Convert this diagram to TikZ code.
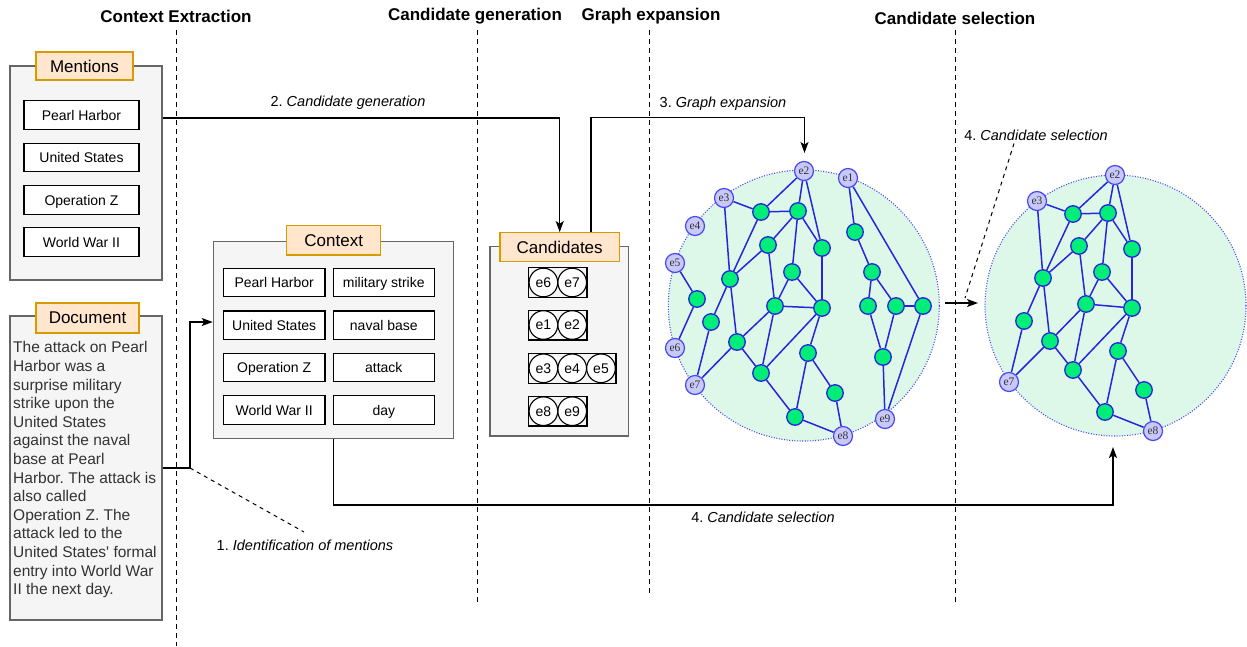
\documentclass[tikz,border=0pt]{standalone}
\usepackage{fontspec}
\setmainfont{Liberation Sans}
\newfontfamily\nodeserif{Liberation Serif}
\usetikzlibrary{arrows.meta,fit}
\frenchspacing

\definecolor{panelfill}{HTML}{F5F5F5}
\definecolor{panelline}{HTML}{666666}
\definecolor{titlefill}{HTML}{FFE6CC}
\definecolor{titleline}{HTML}{D79B00}
\definecolor{graphfill}{HTML}{DDF8E8}
\definecolor{graphline}{HTML}{4848F0}
\definecolor{edgeblue}{HTML}{2626DC}
\definecolor{entfill}{HTML}{C8C8FA}
\definecolor{greenfill}{HTML}{00EE77}
\definecolor{doctext}{HTML}{333333}

\pgfdeclarelayer{bg}
\pgfdeclarelayer{links}
\pgfsetlayers{bg,links,main}

\tikzset{
  head/.style={font=\bfseries\fontsize{17}{20}\selectfont, inner sep=0},
  note/.style={font=\fontsize{14.5}{17}\selectfont, inner sep=0},
  panel/.style={draw=panelline, fill=panelfill, line width=1.2pt, inner sep=0},
  ptitle/.style={draw=titleline, fill=titlefill, line width=1.2pt, inner sep=0,
    text depth=0pt, font=\fontsize{17}{20}\selectfont},
  itembox/.style={draw=black, fill=white, line width=1.3pt, inner sep=0,
    text depth=0pt, minimum height=28.5pt, font=\fontsize{14}{17}\selectfont},
  cand/.style={circle, draw=black, fill=white, line width=1.1pt, inner sep=0,
    minimum size=28.6pt, font=\fontsize{14}{17}\selectfont},
  candgroup/.style={draw=black, line width=1.3pt, inner sep=0},
  phase/.style={black, line width=1pt, dash pattern=on 5pt off 4pt},
  link/.style={black, line width=1.3pt},
  arrow/.style={link, -{Stealth[length=11pt,width=8pt,inset=2.5pt]}},
  hint/.style={black, line width=1pt, dash pattern=on 4pt off 4pt},
  graphdisc/.style={circle, fill=graphfill, draw=graphline, line width=1.1pt,
    dash pattern=on 1pt off 1.6pt, inner sep=0},
  ent/.style={circle, fill=entfill, draw=graphline, line width=1.2pt, inner sep=0,
    minimum size=19pt, text=doctext, font=\nodeserif\fontsize{11.5}{11.5}\selectfont},
  hub/.style={circle, fill=greenfill, draw=edgeblue, line width=1.3pt, inner sep=0,
    minimum size=16.5pt},
  edge/.style={edgeblue, line width=1.5pt},
}

\def\commonedges{e2/g1, e2/g2, e2/g4, e3/g1, e3/g5, g1/g2, g1/g5, g2/g3, g2/g6,
  g2/g4, g3/g5, g3/g7, g4/g8, g6/g7, g6/g8, g7/g8, g5/g9, g5/g10, g9/e7, g10/e7,
  g10/g7, g10/g12, g7/g12, g8/g12, g8/g11, g11/g14, g11/g13, g13/e8, g12/g14, g14/e8}

\begin{document}
\begin{tikzpicture}[x=1pt, y=-1pt]
\useasboundingbox (0,0) rectangle (1247,646);

% ---------- phase headings and separators ----------
\node[head] (hctx)  at (176,16) {Context Extraction};
\node[head] (hgen)  at (475,16) {Candidate generation};
\node[head] (hexp)  at (651,16) {Graph expansion};
\node[head] (hsel)  at (955,18) {Candidate selection};

\coordinate (s1t) at (176,30);  \coordinate (s1b) at (176,646);
\coordinate (s2t) at (477,30);  \coordinate (s2b) at (477,605);
\coordinate (s3t) at (649,30);  \coordinate (s3b) at (649,597);
\coordinate (s4t) at (955,30);  \coordinate (s4b) at (955,603);
\draw[phase] (s1t) -- (s1b);
\draw[phase] (s2t) -- (s2b);
\draw[phase] (s3t) -- (s3b);
\draw[phase] (s4t) -- (s4b);

% ---------- mentions ----------
\node[panel, minimum width=152pt, minimum height=214pt] (mentions) at (86,173) {};
\node[ptitle, minimum width=97pt, minimum height=28pt] (mtitle) at (84.5,66) {Mentions};
\foreach \i/\y/\t in {1/115/Pearl Harbor, 2/157.5/United States,
                      3/200/Operation Z, 4/242/World War II}
  \node[itembox, minimum width=115pt] (m\i) at (81.5,\y) {\t};

% ---------- document ----------
\node[panel, minimum width=152pt, minimum height=304pt] (doc) at (86,468) {};
\node[ptitle, minimum width=103pt, minimum height=30pt] (dtitle) at (87.5,318) {Document};
\node[anchor=north west, align=left, inner sep=0, text=doctext,
      font=\fontsize{15.5}{18.6}\selectfont] (doctext) at (13,341.5)
  {The attack on Pearl\\ Harbor was a\\ surprise military\\ strike upon the\\
   United States\\ against the naval\\ base at Pearl\\ Harbor. The attack is\\
   also called\\ Operation Z. The\\ attack led to the\\ United States\textquotesingle\ formal\\
   entry into World War\\ II the next day.};

% ---------- context ----------
\node[panel, minimum width=240pt, minimum height=196.7pt] (ctx) at (333.3,340) {};
\node[ptitle, minimum width=94pt, minimum height=29.3pt] (ctitle) at (333.7,240.3) {Context};
\foreach \i/\y/\l/\r in {1/282.5/Pearl Harbor/military strike,
                         2/325.3/United States/naval base,
                         3/367.5/Operation Z/attack,
                         4/410/World War II/day} {
  \node[itembox, minimum width=101.7pt] (cl\i) at (274.2,\y) {\l};
  \node[itembox, minimum width=101pt]   (cr\i) at (383.8,\y) {\r};
}

% ---------- candidates ----------
\node[panel, minimum width=138.3pt, minimum height=189.3pt] (cands) at (559.2,341.3) {};
\node[ptitle, minimum width=119.3pt, minimum height=29pt] (candtitle) at (559.7,247.2) {Candidates};
\node[cand] (c-e6) at (543.4,282.5) {e6};
\node[cand] (c-e7) at (572.2,282.5) {e7};
\node[cand] (c-e1) at (543.4,325)   {e1};
\node[cand] (c-e2) at (572.2,325)   {e2};
\node[cand] (c-e3) at (543.4,368.3) {e3};
\node[cand] (c-e4) at (572.2,368.3) {e4};
\node[cand] (c-e5) at (601,368.3)   {e5};
\node[cand] (c-e8) at (543.4,411.2) {e8};
\node[cand] (c-e9) at (572.2,411.2) {e9};
\node[candgroup, fit=(c-e6)(c-e7)] (grp1) {};
\node[candgroup, fit=(c-e1)(c-e2)] (grp2) {};
\node[candgroup, fit=(c-e3)(c-e5)] (grp3) {};
\node[candgroup, fit=(c-e8)(c-e9)] (grp4) {};

% ---------- expanded graph ----------
\begin{pgfonlayer}{bg}
  \node[graphdisc, minimum size=271pt] (disc1) at (803.8,305.5) {};
  \node[graphdisc, minimum size=261pt] (disc2) at (1115.5,305.5) {};
\end{pgfonlayer}

\foreach \n/\x/\y in {e2/804/171, e3/724/198, e4/695/226, e5/675/263,
    e6/675/348, e7/695/385, e8/843/436, e1/848/178, e9/885/419}
  \node[ent] (A-\n) at (\x,\y) {\n};
\foreach \n/\x/\y in {g1/761/212, g2/798/211, g3/768/245, g4/822/248,
    g5/730/279, g6/792/272, g7/775/306, g8/822/308, gA/697/299, g9/711/322,
    g10/737/342, g11/808/353, g12/761/373, g13/835/393, g14/795/417,
    h1/855/232, h2/872/272, h3/868/306, h4/896/306, h5/923/306, h6/883/357}
  \node[hub] (A-\n) at (\x,\y) {};

\begin{pgfonlayer}{links}
  \foreach \a/\b in \commonedges \draw[edge] (A-\a) -- (A-\b);
  \foreach \a/\b in {e5/gA, gA/e6, e1/h1, e1/h5, h1/h2, h2/h3, h2/h4,
                     h4/h5, h3/h6, h4/h6, h6/e9, h5/e9}
    \draw[edge] (A-\a) -- (A-\b);
\end{pgfonlayer}

% ---------- selected sub-graph ----------
\foreach \n/\x/\y in {e2/1115/175, e3/1037/201, e7/1009/382, e8/1153/431}
  \node[ent] (B-\n) at (\x,\y) {\n};
\foreach \n/\x/\y in {g1/1073/214, g2/1108/213, g3/1079/246, g4/1132/249,
    g5/1043/278, g6/1102/272, g7/1086/304, g8/1132/308, g9/1024/321,
    g10/1050/341, g11/1118/351, g12/1073/370, g13/1144/390, g14/1105/412}
  \node[hub] (B-\n) at (\x,\y) {};

\begin{pgfonlayer}{links}
  \foreach \a/\b in \commonedges \draw[edge] (B-\a) -- (B-\b);
\end{pgfonlayer}

% ---------- process connectors ----------
% 1. mentions are identified in the document and give the context
\coordinate (docbend) at (190,468);
\coordinate (idend) at (304,532);
\draw[arrow] (doc.east) -- (docbend) |- ([yshift=18pt]ctx.west);
\draw[hint] (docbend) -- (idend);
\node[note] (idlabel) at (305,545) {1. \textit{Identification of mentions}};

% 2. candidate generation
\draw[arrow] ([yshift=55pt]mentions.east) -| (candtitle.north);
\node[note] (genlabel) at (348,103) {2. \textit{Candidate generation}};

% 3. graph expansion
\coordinate (expin) at (804.5,153);
\draw[arrow] ([xshift=31.3pt]candtitle.north) -- ++(0,-114.7) -| (expin);
\node[note] (explabel) at (723,104) {3. \textit{Graph expansion}};

% 4. candidate selection
\coordinate (selin) at (1113,447);
\coordinate (selbend) at (333.3,505);
\draw[arrow] (ctx.south) -- (selbend) -| (selin);
\node[note] (sellabel) at (763,517) {4. \textit{Candidate selection}};

\coordinate (gout) at (945,303);
\coordinate (gin) at (978,303);
\draw[arrow] (gout) -- (gin);
\node[note] (selnote) at (1036,135) {4. \textit{Candidate selection}};
\coordinate (selnoteend) at (965,298);
\draw[hint] ([xshift=-22pt,yshift=-3pt]selnote.south) -- (selnoteend);

\end{tikzpicture}
\end{document}
